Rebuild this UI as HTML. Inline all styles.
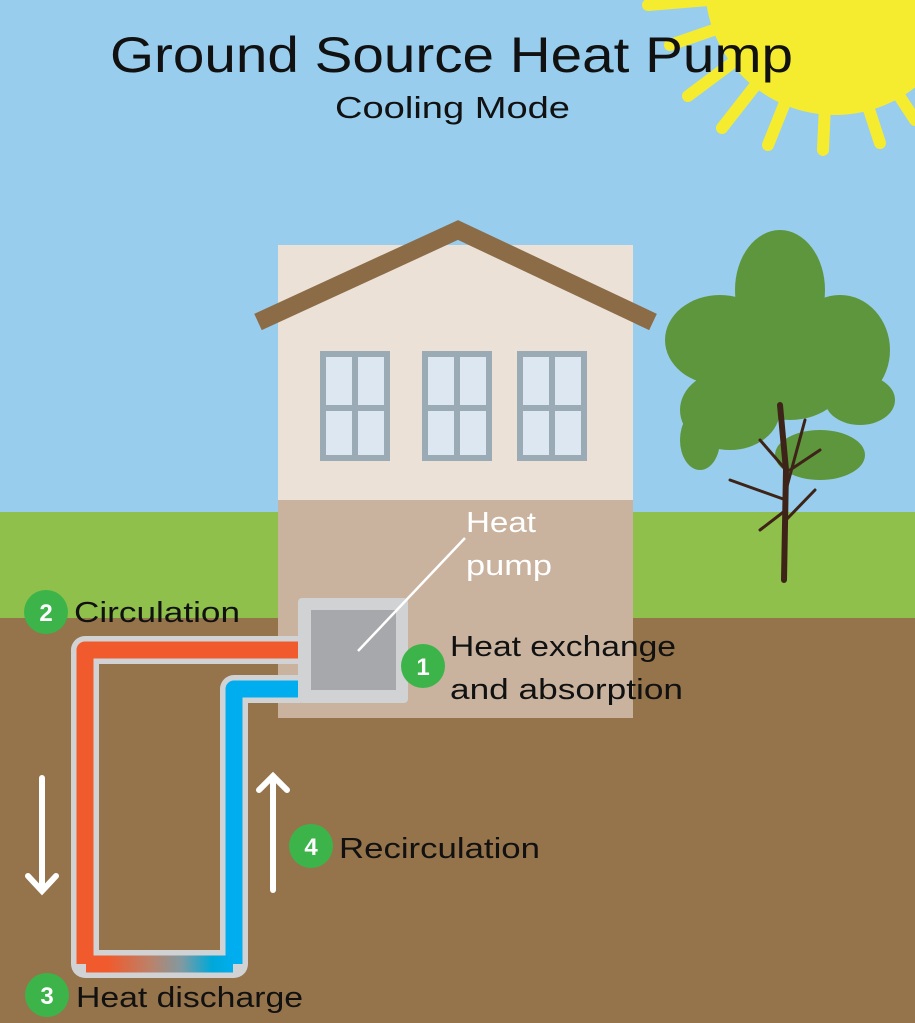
<!DOCTYPE html>
<html><head><meta charset="utf-8"><style>
html,body{margin:0;padding:0;width:915px;height:1023px;overflow:hidden}
svg{display:block}
text{font-family:"Liberation Sans",sans-serif}
</style></head><body>
<svg width="915" height="1023" viewBox="0 0 915 1023" xmlns="http://www.w3.org/2000/svg">
<defs>
<linearGradient id="g" x1="85" y1="0" x2="234" y2="0" gradientUnits="userSpaceOnUse">
<stop offset="0.15" stop-color="#f15a2c"/><stop offset="0.45" stop-color="#b9836c"/><stop offset="0.65" stop-color="#7f9aa2"/><stop offset="0.85" stop-color="#00a8d8"/><stop offset="1" stop-color="#00aeef"/>
</linearGradient>
</defs>
<rect width="915" height="1023" fill="#98cdee"/>
<!-- sun -->
<g stroke="#f5ec30" stroke-width="12" stroke-linecap="round">
<line x1="830" y1="-10" x2="648" y2="5"/>
<line x1="830" y1="-10" x2="670" y2="45"/>
<line x1="830" y1="-10" x2="688" y2="96"/>
<line x1="830" y1="-10" x2="722" y2="128"/>
<line x1="830" y1="-10" x2="768" y2="145"/>
<line x1="830" y1="-10" x2="823" y2="150"/>
<line x1="830" y1="-10" x2="880" y2="143"/>
<line x1="830" y1="-10" x2="915" y2="120"/>
</g>
<circle cx="835" cy="-15" r="130" fill="#f5ec30"/>
<!-- ground -->
<rect y="512" width="915" height="106" fill="#8fc04b"/>
<rect y="618" width="915" height="405" fill="#95734b"/>
<!-- tree -->
<g fill="#5e963e">
<ellipse cx="780" cy="290" rx="45" ry="60"/>
<ellipse cx="720" cy="340" rx="55" ry="45"/>
<ellipse cx="840" cy="350" rx="50" ry="55"/>
<ellipse cx="860" cy="400" rx="35" ry="25"/>
<ellipse cx="730" cy="410" rx="50" ry="40"/>
<ellipse cx="790" cy="370" rx="60" ry="50"/>
<ellipse cx="820" cy="455" rx="45" ry="25"/>
<ellipse cx="700" cy="440" rx="20" ry="30"/>
</g>
<g stroke="#3e2418" fill="none" stroke-linecap="round">
<path d="M784 580 L786 470 L780 405" stroke-width="6"/>
<path d="M786 500 L730 480 M786 490 L805 420 M786 470 L760 440 M786 520 L815 490 M786 510 L760 530 M790 470 L820 450" stroke-width="3"/>
</g>
<!-- house -->
<rect x="278" y="245" width="355" height="256" fill="#ebe1d7"/>
<rect x="278" y="500" width="355" height="218" fill="#c9b39f"/>
<polyline points="258,322 458,230 653,322" fill="none" stroke="#8c6b47" stroke-width="18"/>
<g fill="#dde7f2" stroke="#9aabb6" stroke-width="6">
<rect x="323" y="354" width="64" height="104"/><line x1="355" y1="354" x2="355" y2="458"/><line x1="323" y1="408" x2="387" y2="408"/>
<rect x="425" y="354" width="64" height="104"/><line x1="457" y1="354" x2="457" y2="458"/><line x1="425" y1="408" x2="489" y2="408"/>
<rect x="520" y="354" width="64" height="104"/><line x1="552" y1="354" x2="552" y2="458"/><line x1="520" y1="408" x2="584" y2="408"/>
</g>
<!-- pipes -->
<g fill="none" stroke="#d0d2d4" stroke-width="28" stroke-linejoin="round">
<polyline points="300,650 85,650 85,964 234,964 234,689 300,689"/>
</g>
<g fill="none" stroke-width="17" stroke-linejoin="round">
<polyline points="300,650 85,650 85,964" stroke="#f15a2c"/>
<polyline points="234,964 234,689 300,689" stroke="#00aeef"/>
<line x1="86" y1="964" x2="233" y2="964" stroke="url(#g)"/>
</g>
<!-- heat pump -->
<rect x="298" y="598" width="110" height="105" rx="4" fill="#d0d2d4"/>
<rect x="311" y="610" width="85" height="80" fill="#a7a8ab"/>
<line x1="358" y1="651" x2="465" y2="538" stroke="#fff" stroke-width="2.5"/>
<!-- arrows -->
<g stroke="#fff" stroke-width="6" fill="none" stroke-linecap="round">
<line x1="42" y1="778" x2="42" y2="890"/><polyline points="28,876 42,891 56,876"/>
<line x1="273" y1="776" x2="273" y2="890"/><polyline points="259,790 273,776 287,790"/>
</g>
<!-- badges -->
<g fill="#3cb44a"><circle cx="46" cy="612" r="22"/><circle cx="423" cy="666" r="22"/><circle cx="311" cy="846" r="22"/><circle cx="47" cy="995" r="22"/></g>
<g fill="#fff" font-weight="bold" font-size="24" text-anchor="middle">
<text x="46" y="621">2</text><text x="423" y="675">1</text><text x="311" y="855">4</text><text x="47" y="1004">3</text>
</g>
<g fill="#111" font-size="29">
<text x="74" y="622" textLength="166" lengthAdjust="spacingAndGlyphs">Circulation</text>
<text x="450" y="656" textLength="226" lengthAdjust="spacingAndGlyphs">Heat exchange</text>
<text x="450" y="699" textLength="233" lengthAdjust="spacingAndGlyphs">and absorption</text>
<text x="339" y="858" textLength="201" lengthAdjust="spacingAndGlyphs">Recirculation</text>
<text x="76" y="1007" textLength="227" lengthAdjust="spacingAndGlyphs">Heat discharge</text>
</g>
<g fill="#fff" font-size="29"><text x="466" y="532" textLength="70" lengthAdjust="spacingAndGlyphs">Heat</text><text x="466" y="575" textLength="86" lengthAdjust="spacingAndGlyphs">pump</text></g>
<text x="110" y="72" font-size="50" textLength="683" lengthAdjust="spacingAndGlyphs" fill="#111">Ground Source Heat Pump</text>
<text x="335" y="118" font-size="31" textLength="235" lengthAdjust="spacingAndGlyphs" fill="#111">Cooling Mode</text>
</svg>
</body></html>
